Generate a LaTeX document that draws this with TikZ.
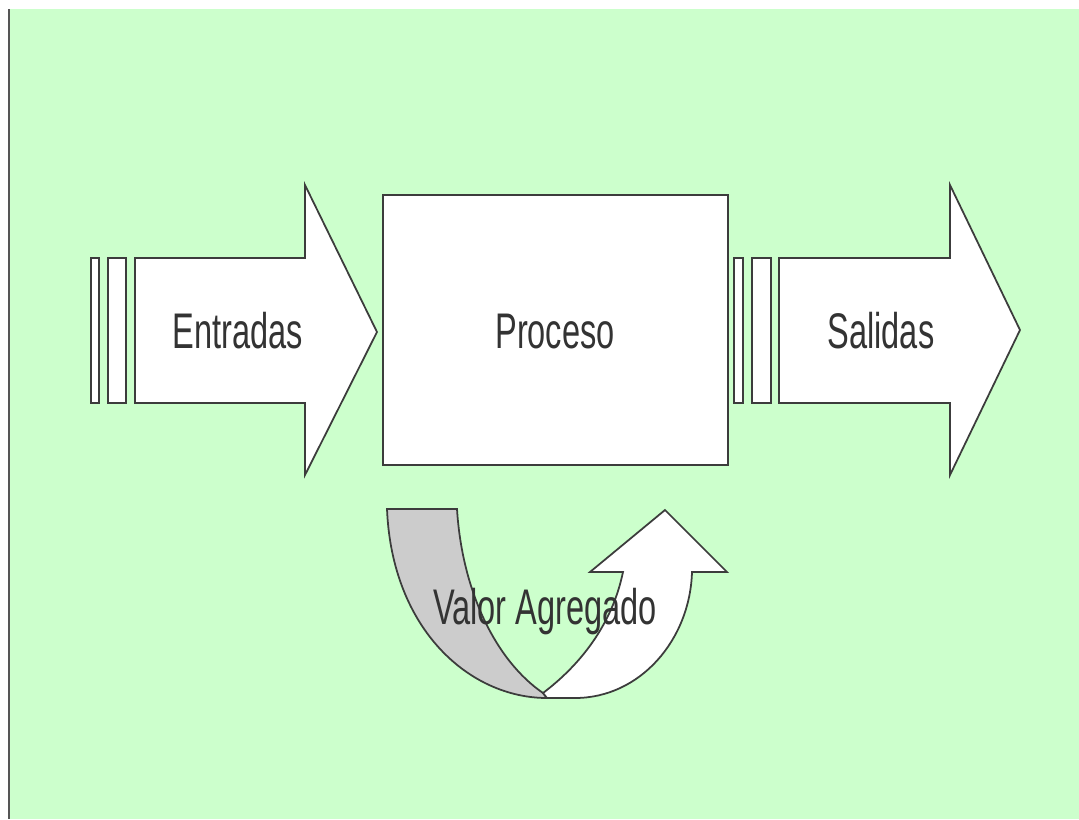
\documentclass[tikz,border=0pt]{standalone}
\usepackage{fontspec}
\setmainfont[FakeStretch=0.65]{Liberation Sans}
\definecolor{bggreen}{HTML}{CCFFCC}
\definecolor{linegray}{HTML}{3C3C3C}
\definecolor{textgray}{HTML}{333333}
\definecolor{bandgray}{HTML}{CCCCCC}
\definecolor{edgegray}{HTML}{555555}
\begin{document}
\begin{tikzpicture}[x=0.02cm,y=-0.02cm,
    shapeline/.style={draw=linegray,line width=1pt,fill=white,line join=miter},
    labeltext/.style={text=textgray,font=\fontsize{28.5pt}{30pt}\selectfont,inner sep=0pt,anchor=base}]
  \useasboundingbox (0,0) rectangle (1079,819);
  \fill[bggreen] (10,9) rectangle (1079,819);
  \draw[edgegray,line width=1.6pt] (9,9) -- (9,819);
  % input side
  \draw[shapeline] (91,258) rectangle (99,403);
  \draw[shapeline] (108,258) rectangle (126,403);
  \draw[shapeline] (135,258) -- (305,258) -- (305,185) -- (377,332)
    -- (305,475) -- (305,403) -- (135,403) -- cycle;
  % process box
  \draw[shapeline] (383,195) rectangle (728,465);
  % output side
  \draw[shapeline] (734,258) rectangle (743,403);
  \draw[shapeline] (752,258) rectangle (771,403);
  \draw[shapeline] (779,258) -- (950,258) -- (950,185) -- (1020,330)
    -- (950,475) -- (950,403) -- (779,403) -- cycle;
  % value loop
  \draw[shapeline,fill=bandgray] (387,509) -- (457,509)
    .. controls (462,590) and (495,660) .. (543,693) -- (547,698)
    .. controls (470,698) and (392,630) .. (387,509) -- cycle;
  \draw[shapeline] (543,693) .. controls (580,665) and (612,625) .. (623,572)
    -- (590,572) -- (665,510) -- (727,572) -- (692,572)
    .. controls (690,640) and (640,698) .. (575,698) -- (547,698) -- cycle;
  \draw
    (238,348) node[labeltext] (entradas){Entradas}
    (555,348) node[labeltext] (proceso){Proceso}
    (881,348) node[labeltext] (salidas){Salidas}
    (545,624) node[labeltext] (valor){Valor Agregado};
\end{tikzpicture}
\end{document}
